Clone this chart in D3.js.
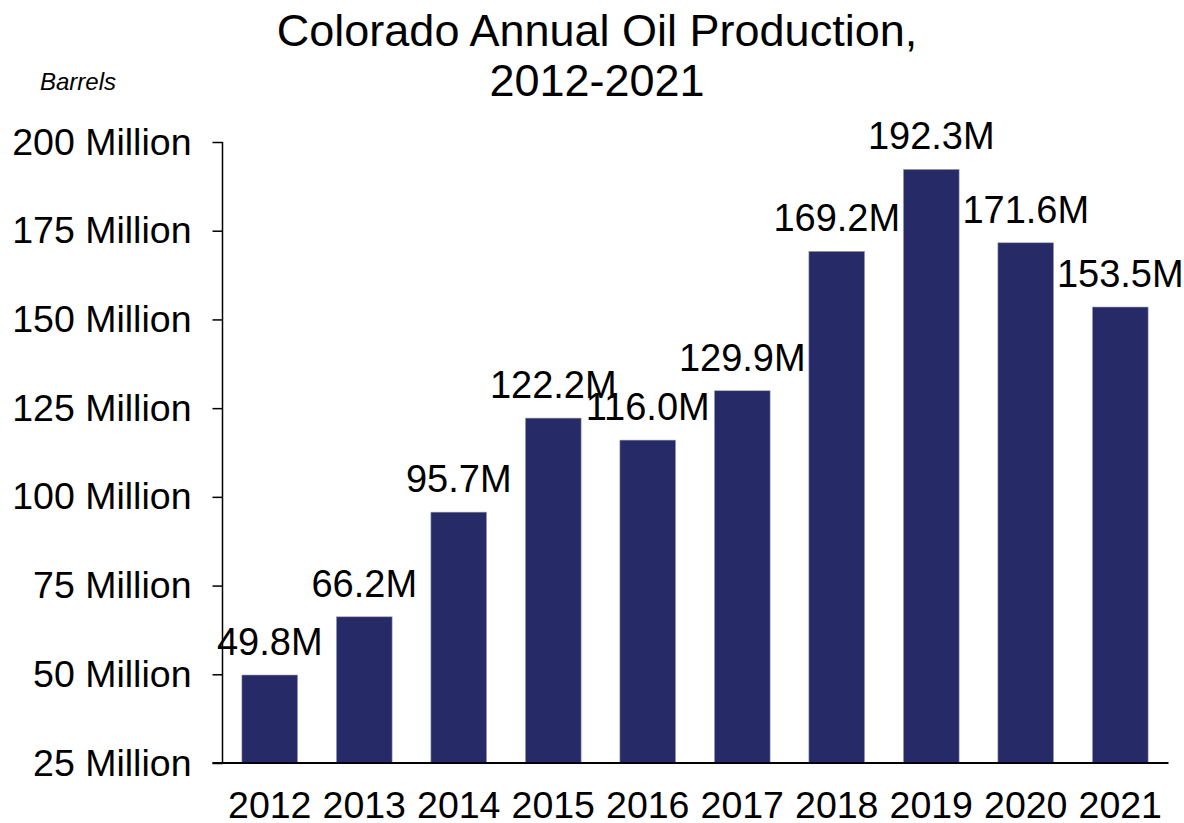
<!DOCTYPE html>
<html>
<head>
<meta charset="utf-8">
<script src="https://cdn.jsdelivr.net/npm/d3@7"></script>
<style>
  html, body { margin: 0; padding: 0; background: #fff; }
  svg { display: block; font-family: Arial, "Liberation Sans", Helvetica, sans-serif; }
</style>
</head>
<body>
<svg id="chart" width="1184" height="823"></svg>
<script>
const years = ["2012","2013","2014","2015","2016","2017","2018","2019","2020","2021"];
const production = [49.8, 66.2, 95.7, 122.2, 116.0, 129.9, 169.2, 192.3, 171.6, 153.5];
const yTicks = [25, 50, 75, 100, 125, 150, 175, 200];
const titleLines = ["Colorado Annual Oil Production,", "2012-2021"];
const unitLabel = "Barrels";

(function () {
const svg = d3.select("#chart");
const mLeft = 222.5, mRight = 1167.5, mTop = 142, mBottom = 763;

const x = d3.scaleBand().domain(years).range([mLeft, mRight])
  .paddingInner(0.41).paddingOuter(0.205);
const y = d3.scaleLinear().domain([25, 200]).range([mBottom, mTop]);

// title
svg.append("text")
  .attr("text-anchor", "middle")
  .style("font-size", "45px").attr("fill", "#000")
  .selectAll("tspan").data(titleLines).join("tspan")
  .attr("x", 597).attr("y", (d, i) => 46 + i * 50)
  .text(d => d);

svg.append("text")
  .attr("x", 40).attr("y", 90)
  .style("font-size", "24px").style("font-style", "italic")
  .text(unitLabel);

// bars
svg.append("g").selectAll("rect").data(production).join("rect")
  .attr("x", (d, i) => x(years[i]))
  .attr("width", x.bandwidth())
  .attr("y", d => y(d))
  .attr("height", d => y(25) - y(d))
  .attr("fill", "#262a66")
  .attr("stroke", "#a3a5cc")
  .attr("stroke-width", 0.6);

// value labels
svg.append("g").selectAll("text").data(production).join("text")
  .attr("x", (d, i) => x(years[i]) + x.bandwidth() / 2)
  .attr("y", d => y(d) - 20)
  .attr("text-anchor", "middle")
  .style("font-size", "38px")
  .text(d => d.toFixed(1) + "M");

// y axis
const yAxis = d3.axisLeft(y).tickValues(yTicks).tickSize(10).tickPadding(21)
  .tickFormat(d => d + " Million");
const gy = svg.append("g").attr("transform", `translate(${mLeft},0)`).call(yAxis);
gy.select(".domain").attr("stroke", "#000").attr("stroke-width", 1.5).attr("d", `M0,${mTop}V${mBottom}`);
gy.selectAll(".tick line").attr("stroke", "#000").attr("stroke-width", 1.5);
gy.selectAll(".tick text").style("font-size", "37.5px").attr("fill", "#000")
  .style("font-family", "Arial, 'Liberation Sans', sans-serif");

// x axis
const xAxis = d3.axisBottom(x).tickSize(0).tickPadding(28);
const gx = svg.append("g").attr("transform", `translate(0,${mBottom})`).call(xAxis);
gx.select(".domain").attr("stroke", "#000").attr("stroke-width", 2).attr("d", `M${mLeft - 10},0H${mRight + 1}`);
gx.selectAll(".tick text").style("font-size", "37.5px").attr("fill", "#000")
  .style("font-family", "Arial, 'Liberation Sans', sans-serif");
})();
</script>
</body>
</html>
